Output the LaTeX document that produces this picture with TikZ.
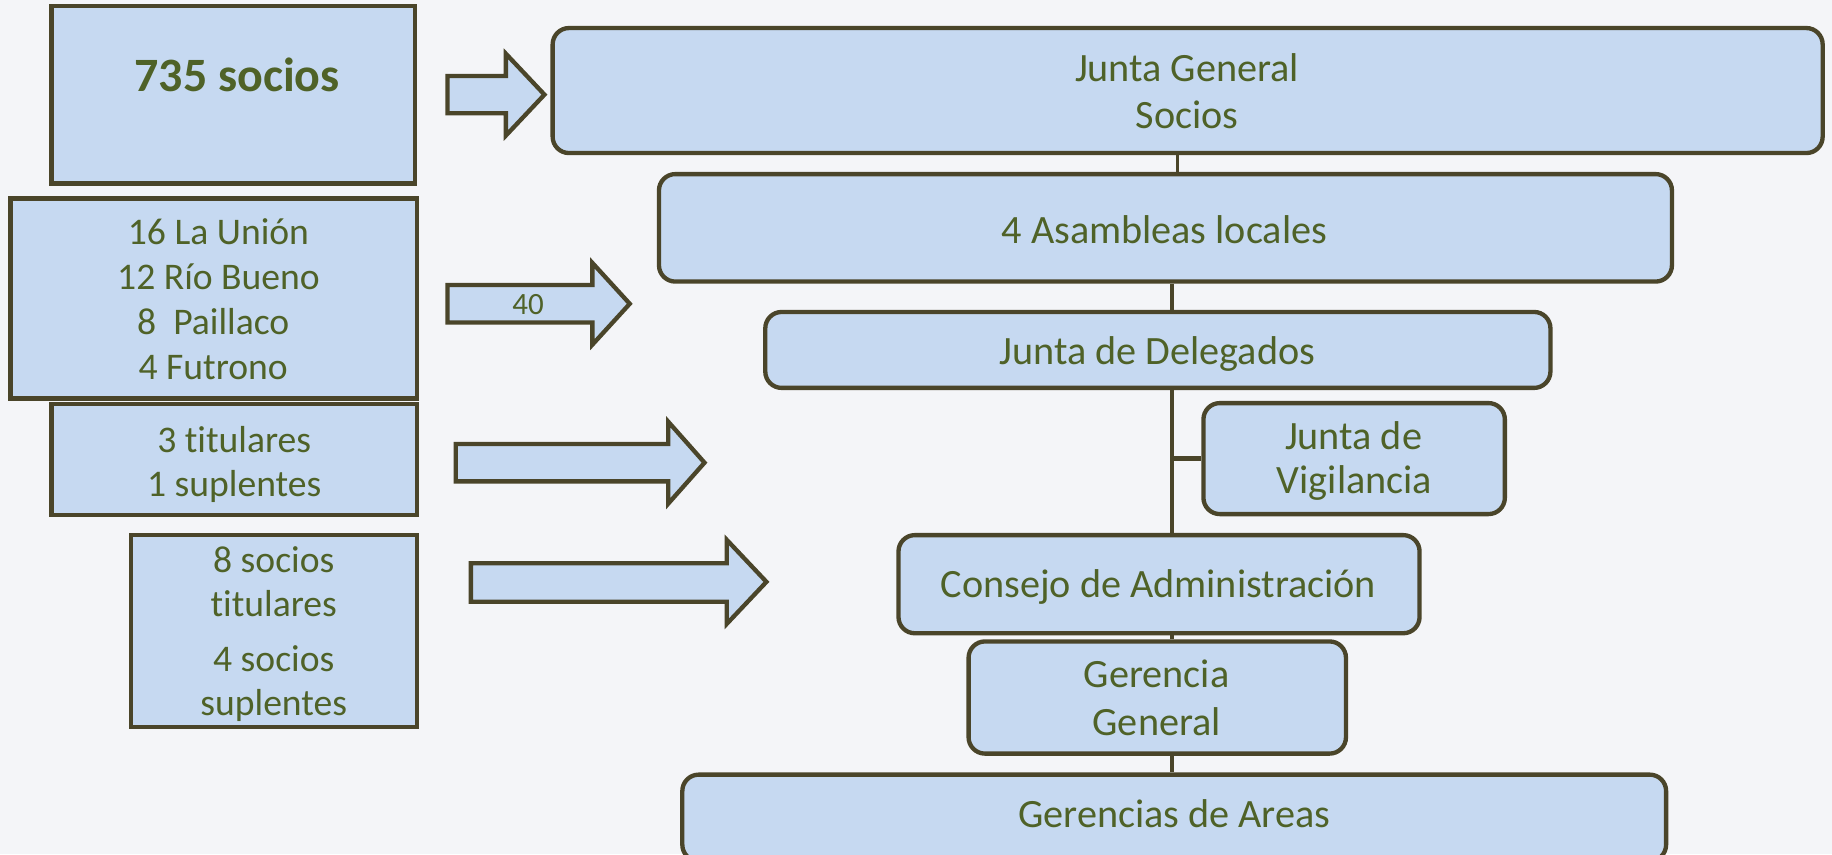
\documentclass[tikz,border=0pt]{standalone}
\usepackage{fontspec}
\setmainfont{Carlito}[Ligatures={NoCommon}]
\definecolor{bg}{HTML}{F4F5F8}
\definecolor{boxfill}{HTML}{C6D9F1}
\definecolor{boxline}{HTML}{4A452A}
\definecolor{txt}{HTML}{4F6228}
\newcommand\mainfnt{\fontsize{34.4}{38.5}\selectfont}
\newcommand\leftfnt{\fontsize{32.2}{38.5}\selectfont}
\newcommand\boldfnt{\fontsize{41}{48}\selectfont\bfseries}
\newcommand\smallfnt{\fontsize{26.5}{30}\selectfont}
\newcommand\tln[3]{\node[lbl, anchor=base] (#1) at (#2) {#3};}
\newcommand\tlf[3]{\node[lbl, font=\leftfnt, anchor=base] (#1) at (#2) {#3};}
\begin{document}
\begin{tikzpicture}[x=1pt,y=-1pt,
  sbox/.style={draw=boxline, fill=boxfill, line width=3.7pt, inner sep=0pt},
  rbox/.style={sbox, rounded corners=14pt},
  barrow/.style={draw=boxline, fill=boxfill, line width=3.7pt, line join=miter},
  conn/.style={draw=boxline, line width=3pt},
  stub/.style={draw=boxline, line width=4pt},
  lbl/.style={text=txt, inner sep=0pt, font=\mainfnt}]
\fill[bg] (0,0) rectangle (1568,731);
\useasboundingbox (0,0) rectangle (1568,731);

% left boxes
\node[sbox, minimum width=311pt, minimum height=152pt] (socios) at (199.5,81) {};
\node[sbox, minimum width=348pt, minimum height=171pt] (local) at (183,255.5) {};
\node[sbox, minimum width=313pt, minimum height=95pt] (vig) at (200.5,393.5) {};
\node[sbox, minimum width=245pt, minimum height=164pt] (cons) at (234.5,540) {};

\node[lbl, font=\boldfnt, anchor=base] (t735) at (203,78.5) {735 socios};
\tlf{tl1}{187,209.3}{16 La Unión}
\tlf{tl2}{187,247.8}{12 Río Bueno}
\tlf{tl3}{182.5,286.1}{8~~Paillaco}
\tlf{tl4}{182.5,324.5}{4 Futrono}
\tlf{tv1}{200.5,387.1}{3 titulares}
\tlf{tv2}{200.5,425}{1 suplentes}
\tlf{tc1}{234.3,490.3}{8 socios}
\tlf{tc2}{234.3,527.7}{titulares}
\tlf{tc3}{234.3,574.5}{4 socios}
\tlf{tc4}{234.3,612.5}{suplentes}

% block arrows
\draw[barrow] (383,65) -- (433,65) -- (433,46) -- (466,81) -- (433,116) -- (433,97) -- (383,97) -- cycle;
\draw[barrow] (383,244) -- (507,244) -- (507,225) -- (539,260) -- (507,295) -- (507,276) -- (383,276) -- cycle;
\node[lbl, font=\smallfnt, anchor=base] (forty) at (452,269.6) {40};
\draw[barrow] (390,380) -- (572,380) -- (572,361) -- (603,396) -- (572,431) -- (572,412) -- (390,412) -- cycle;
\draw[barrow] (403,482) -- (622,482) -- (622,462) -- (656,498) -- (622,534) -- (622,515) -- (403,515) -- cycle;

% right boxes
\node[rbox, minimum width=1087pt, minimum height=107pt] (jg) at (1016.5,77.5) {};
\node[rbox, minimum width=867pt, minimum height=92pt] (al) at (997.5,195) {};
\node[rbox, minimum width=672pt, minimum height=65pt] (jd) at (991,299.5) {};
\node[rbox, minimum width=258pt, minimum height=95pt] (jv) at (1159,392.5) {};
\node[rbox, minimum width=446pt, minimum height=84pt] (ca) at (992,500) {};
\node[rbox, minimum width=323pt, minimum height=96pt] (gg) at (990.5,597) {};
\node[rbox, minimum width=842pt, minimum height=74pt] (ga) at (1005,700) {};

\tln{tjg1}{1016,69.5}{Junta General}
\tln{tjg2}{1016,110.3}{Socios}
\tln{tal}{996.5,208}{4 Asambleas locales}
\tln{tjd}{990.5,312.2}{Junta de Delegados}
\tln{tjv1}{1158.5,384.3}{Junta de}
\tln{tjv2}{1159.3,422.8}{Vigilancia}
\tln{tca}{991.5,511.3}{Consejo de Administración}
\tln{tgg1}{990,588.3}{Gerencia}
\tln{tgg2}{990,629.7}{General}
\tln{tga}{1005,708}{Gerencias de Areas}

% connectors
\coordinate (sp1) at (1008,0);
\coordinate (sp2) at (1003,0);
\draw[conn] (jg.south -| sp1) -- (al.north -| sp1);
\draw[conn] (al.south -| sp2) -- (jd.north -| sp2);
\draw[conn] (jd.south -| sp2) -- (ca.north -| sp2);
\draw[stub] (jv.west -| sp2) -- (jv.west);
\draw[conn] (ca.south -| sp2) -- (gg.north -| sp2);
\draw[conn] (gg.south -| sp2) -- (ga.north -| sp2);
\end{tikzpicture}
\end{document}
